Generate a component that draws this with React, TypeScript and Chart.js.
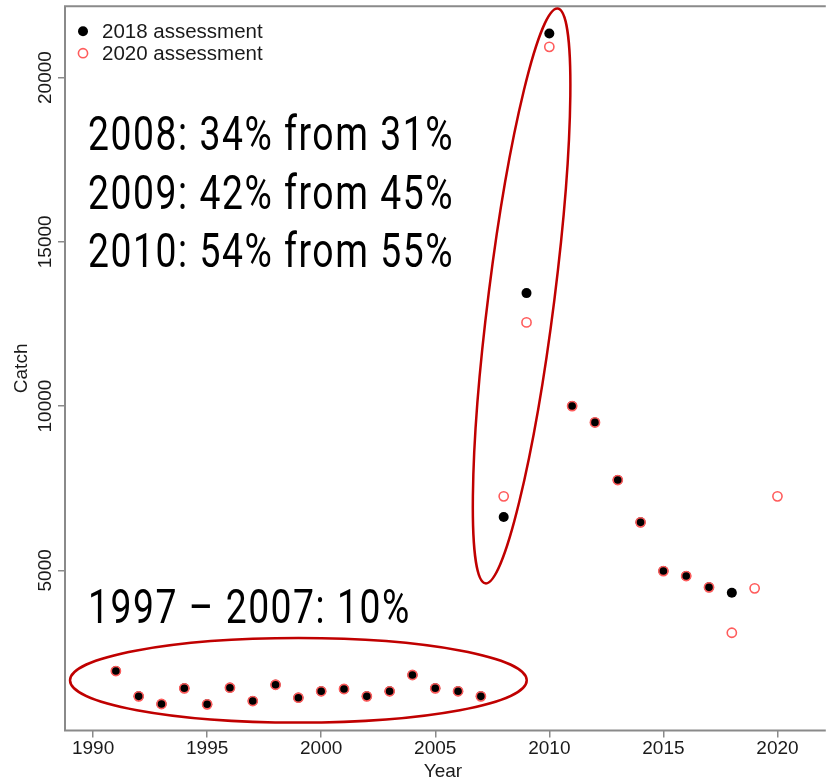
import { useEffect, useRef } from "react";
import { Chart, registerables } from "chart.js";

Chart.register(...registerables);

// catch by year
const years2018 = [1991, 1992, 1993, 1994, 1995, 1996, 1997, 1998, 1999, 2000, 2001, 2002, 2003, 2004, 2005, 2006, 2007, 2008, 2009, 2010, 2011, 2012, 2013, 2014, 2015, 2016, 2017, 2018];
const catch2018 = [1935, 1165, 931, 1409, 922, 1427, 1022, 1518, 1123, 1318, 1388, 1165, 1318, 1814, 1409, 1318, 1165, 6622, 13438, 21340, 10000, 9503, 7748, 6460, 4978, 4826, 4482, 4318];
const years2020 = [1991, 1992, 1993, 1994, 1995, 1996, 1997, 1998, 1999, 2000, 2001, 2002, 2003, 2004, 2005, 2006, 2007, 2008, 2009, 2010, 2011, 2012, 2013, 2014, 2015, 2016, 2017, 2018, 2019, 2020];
const catch2020 = [1935, 1165, 931, 1409, 922, 1427, 1022, 1518, 1123, 1318, 1388, 1165, 1318, 1814, 1409, 1318, 1165, 7252, 12547, 20933, 10000, 9503, 7748, 6460, 4978, 4826, 4482, 3101, 4452, 7252];

const seriesNames = ["2018 assessment", "2020 assessment"];
const xTicks = [1990, 1995, 2000, 2005, 2010, 2015, 2020];
const yTicks = [5000, 10000, 15000, 20000];

const notes = ["2008: 34% from 31%", "2009: 42% from 45%", "2010: 54% from 55%"];
const earlyNote = "1997 \u2013 2007: 10%";

const frameColor = "#8a8a8a";
const ringColor = "#c00000";
const textColor = "#1a1a1a";
const axisFont = { family: "'Liberation Sans', Arial, sans-serif", size: 19 };
const legendFont = "20.5px 'Liberation Sans', Arial, sans-serif";
const noteFont = "400 48px Roboto, sans-serif";

// annotation anchors, in data units
const noteX = 1989.78;
const noteY = [17789, 15994, 14229];
const earlyNoteY = 3405;
const flatRing = { cx: 1999.0, cy: 1652, rx: 10.01, ry: 1287 };
const tallRing = { x1: 2010.37, y1: 22101, x2: 2007.2, y2: 4604, half: 33 };

const overlay = {
  id: "overlay",
  beforeDatasetsDraw(chart: any) {
    const { ctx, chartArea: a } = chart;
    ctx.save();
    ctx.strokeStyle = frameColor;
    ctx.lineWidth = 2;
    ctx.beginPath();
    ctx.moveTo(a.right + 5, a.top);
    ctx.lineTo(a.left, a.top);
    ctx.lineTo(a.left, a.bottom);
    ctx.lineTo(a.right + 5, a.bottom);
    ctx.stroke();
    ctx.restore();
  },
  afterDatasetsDraw(chart: any) {
    const { ctx, chartArea: a } = chart;
    const xs = chart.scales.x;
    const ys = chart.scales.y;
    ctx.save();

    // rings
    ctx.strokeStyle = ringColor;
    ctx.lineWidth = 2.5;
    const cx = xs.getPixelForValue(flatRing.cx);
    const cy = ys.getPixelForValue(flatRing.cy);
    ctx.beginPath();
    ctx.ellipse(cx, cy, xs.getPixelForValue(flatRing.cx + flatRing.rx) - cx, cy - ys.getPixelForValue(flatRing.cy + flatRing.ry), 0, 0, Math.PI * 2);
    ctx.stroke();

    const px1 = xs.getPixelForValue(tallRing.x1), py1 = ys.getPixelForValue(tallRing.y1);
    const px2 = xs.getPixelForValue(tallRing.x2), py2 = ys.getPixelForValue(tallRing.y2);
    const len = Math.hypot(px1 - px2, py1 - py2);
    ctx.beginPath();
    ctx.ellipse((px1 + px2) / 2, (py1 + py2) / 2, len / 2, tallRing.half, Math.atan2(py1 - py2, px1 - px2), 0, Math.PI * 2);
    ctx.stroke();

    // big notes
    ctx.fillStyle = "#000";
    ctx.font = noteFont;
    ctx.letterSpacing = "2px";
    ctx.textBaseline = "alphabetic";
    ctx.textAlign = "left";
    const sx = 366 / ctx.measureText(notes[0]).width;
    const drawNote = (t: string, y: number) => {
      ctx.save();
      ctx.translate(xs.getPixelForValue(noteX), ys.getPixelForValue(y));
      ctx.scale(sx, 1);
      ctx.fillText(t, 0, 0);
      ctx.restore();
    };
    notes.forEach((t, i) => drawNote(t, noteY[i]));
    drawNote(earlyNote, earlyNoteY);
    ctx.letterSpacing = "0px";

    // legend
    ctx.font = legendFont;
    ctx.textBaseline = "middle";
    chart.data.datasets.forEach((ds: any, i: number) => {
      const y = a.top + 25 + i * 22;
      const x = a.left + 18;
      ctx.beginPath();
      ctx.arc(x, y, ds.pointRadius, 0, Math.PI * 2);
      if (ds.pointBorderWidth > 0) {
        ctx.strokeStyle = ds.pointBorderColor;
        ctx.lineWidth = ds.pointBorderWidth;
        ctx.stroke();
      } else {
        ctx.fillStyle = ds.pointBackgroundColor;
        ctx.fill();
      }
      ctx.fillStyle = textColor;
      ctx.fillText(ds.label, x + 19, y + 1);
    });
    ctx.restore();
  },
};

const CatchChart = () => {
  const chartRef: any = useRef(null);
  useEffect(() => {
    const ctx = chartRef.current.getContext("2d");
    const grid = { drawOnChartArea: false, drawTicks: true, tickLength: 7, color: frameColor, lineWidth: 1.5 };

    const theChart = new Chart(ctx, {
      type: "scatter",
      data: {
        datasets: [
          {
            label: seriesNames[0],
            data: years2018.map((x, i) => ({ x, y: catch2018[i] })),
            pointStyle: "circle",
            pointRadius: 5,
            pointBackgroundColor: "#000",
            pointBorderColor: "#000",
            pointBorderWidth: 0,
            order: 1,
          },
          {
            label: seriesNames[1],
            data: years2020.map((x, i) => ({ x, y: catch2020[i] })),
            pointStyle: "circle",
            pointRadius: 4.6,
            pointBackgroundColor: "rgba(0,0,0,0)",
            pointBorderColor: "#ff5c5c",
            pointBorderWidth: 1.6,
            order: 0,
          },
        ],
      },
      options: {
        animation: false,
        responsive: false,
        events: [],
        layout: { padding: { top: 6, left: 0, right: 0, bottom: 0 } },
        plugins: { legend: { display: false }, tooltip: { enabled: false } },
        scales: {
          x: {
            type: "linear",
            min: 1988.77,
            max: 2021.9,
            afterBuildTicks: (s: any) => { s.ticks = xTicks.map((value) => ({ value })); },
            afterFit: (s: any) => { s.height = 50.5; },
            grid,
            border: { display: false },
            ticks: { font: axisFont, color: textColor, padding: 0, maxRotation: 0, autoSkip: false, callback: (v: any) => String(v) },
            title: { display: true, text: "Year", font: axisFont, color: textColor, padding: { top: 0, bottom: -2 } },
          },
          y: {
            type: "linear",
            min: 125,
            max: 22171,
            afterBuildTicks: (s: any) => { s.ticks = yTicks.map((value) => ({ value })); },
            afterFit: (s: any) => { s.width = 65; },
            grid,
            border: { display: false },
            ticks: { font: axisFont, color: textColor, minRotation: 90, maxRotation: 90, crossAlign: "center", padding: -14.5, autoSkip: false, callback: (v: any) => String(v) },
            title: { display: true, text: "Catch", font: axisFont, color: textColor, padding: { top: 10, bottom: 0 } },
          },
        },
      },
      plugins: [overlay],
    } as any);

    return () => { theChart.destroy() }
  }, []);

  return (
    <div style={{ position: "fixed", left: 0, top: 0, width: 827, height: 781, background: "#fff" }}>
      <canvas ref={chartRef} width={827} height={781} />
    </div>
  );
};

export default function App() {
  return <CatchChart />;
}
